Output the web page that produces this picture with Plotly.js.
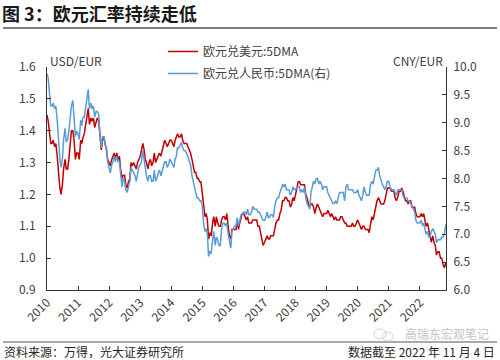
<!DOCTYPE html>
<html><head><meta charset="utf-8">
<script src="https://cdn.plot.ly/plotly-3.0.1.min.js"></script>
<style>html,body{margin:0;padding:0;background:#fff}#chart{width:500px;height:360px}</style>
</head><body><div id="chart"></div>
<script>
// EUR/USD 5DMA, sampled on the 1st and 15th of each month
const usd2010=[1.45,1.43,1.39,1.36,1.36,1.37,1.35,1.36,1.32,1.26,1.22,1.20,1.23,1.28,1.31,1.28,1.28,1.31,1.37,1.40,1.40,1.37,1.31,1.33];
const usd2011=[1.33,1.31,1.37,1.36,1.38,1.39,1.42,1.44,1.47,1.42,1.44,1.43,1.44,1.41,1.43,1.44,1.43,1.38,1.34,1.37,1.38,1.36,1.34,1.31];
const usd2012=[1.30,1.29,1.31,1.32,1.33,1.31,1.33,1.31,1.32,1.28,1.25,1.26,1.26,1.23,1.22,1.24,1.25,1.30,1.29,1.30,1.29,1.28,1.30,1.31];
const usd2013=[1.32,1.34,1.36,1.34,1.31,1.30,1.28,1.30,1.31,1.29,1.30,1.33,1.30,1.31,1.32,1.33,1.32,1.34,1.35,1.37,1.36,1.35,1.36,1.37];
const usd2014=[1.37,1.36,1.35,1.37,1.38,1.39,1.38,1.38,1.39,1.37,1.36,1.36,1.36,1.35,1.34,1.33,1.31,1.29,1.27,1.27,1.25,1.25,1.24,1.24];
const usd2015=[1.21,1.17,1.13,1.14,1.12,1.06,1.08,1.07,1.11,1.13,1.10,1.13,1.11,1.10,1.10,1.12,1.13,1.13,1.12,1.14,1.10,1.07,1.06,1.09];
const usd2016=[1.09,1.09,1.09,1.12,1.09,1.11,1.13,1.14,1.14,1.13,1.12,1.13,1.11,1.11,1.11,1.12,1.12,1.12,1.12,1.10,1.10,1.08,1.06,1.04];
const usd2017=[1.05,1.06,1.07,1.06,1.06,1.07,1.07,1.07,1.09,1.11,1.12,1.12,1.14,1.15,1.18,1.18,1.19,1.19,1.18,1.18,1.16,1.17,1.19,1.18];
const usd2018=[1.20,1.22,1.24,1.24,1.23,1.23,1.23,1.23,1.20,1.19,1.17,1.16,1.17,1.17,1.16,1.14,1.16,1.17,1.16,1.15,1.14,1.13,1.14,1.14];
const usd2019=[1.14,1.15,1.14,1.13,1.14,1.13,1.12,1.13,1.12,1.12,1.12,1.13,1.13,1.12,1.11,1.11,1.10,1.10,1.10,1.10,1.11,1.10,1.10,1.11];
const usd2020=[1.12,1.11,1.10,1.09,1.10,1.10,1.09,1.09,1.09,1.08,1.11,1.13,1.12,1.14,1.17,1.18,1.19,1.18,1.17,1.17,1.17,1.18,1.20,1.22];
const usd2021=[1.22,1.22,1.21,1.21,1.21,1.19,1.18,1.19,1.21,1.21,1.22,1.21,1.19,1.18,1.18,1.17,1.18,1.18,1.16,1.16,1.16,1.14,1.13,1.13];
const usd2022=[1.13,1.14,1.13,1.14,1.12,1.10,1.11,1.09,1.06,1.05,1.07,1.05,1.04,1.01,1.02,1.02,1.00,1.00,0.98,0.97,0.985,0.975];

// EUR/CNY 5DMA (right axis)
const cny2010=[9.88,9.80,9.50,9.30,9.30,9.35,9.25,9.30,9.05,8.65,8.35,8.20,8.35,8.70,8.90,8.65,8.70,8.85,9.15,9.30,9.40,9.10,8.75,8.85];
const cny2011=[8.80,8.70,9.05,8.95,9.10,9.10,9.30,9.45,9.60,9.25,9.35,9.25,9.30,9.10,9.20,9.20,9.15,8.80,8.55,8.75,8.75,8.60,8.55,8.30];
const cny2012=[8.20,8.10,8.25,8.30,8.40,8.30,8.40,8.30,8.30,8.05,7.85,8.00,7.95,7.80,7.75,7.85,7.95,8.20,8.15,8.10,8.05,7.95,8.10,8.20];
const cny2013=[8.25,8.30,8.50,8.35,8.15,8.05,7.95,8.05,8.05,7.95,7.95,8.15,7.95,8.00,8.10,8.15,8.05,8.15,8.25,8.30,8.30,8.20,8.25,8.35];
const cny2014=[8.30,8.25,8.20,8.35,8.40,8.55,8.55,8.60,8.65,8.55,8.50,8.50,8.45,8.40,8.30,8.25,8.05,7.95,7.80,7.75,7.65,7.65,7.60,7.60];
const cny2015=[7.50,7.20,7.05,7.10,7.00,6.60,6.70,6.65,6.90,7.05,6.80,6.95,6.90,6.80,6.80,7.10,7.20,7.20,7.15,7.20,7.00,6.85,6.75,7.05];
const cny2016=[7.10,7.15,7.15,7.30,7.15,7.25,7.35,7.35,7.40,7.40,7.35,7.45,7.35,7.35,7.40,7.50,7.45,7.45,7.45,7.40,7.40,7.35,7.30,7.25];
const cny2017=[7.25,7.30,7.40,7.30,7.30,7.35,7.35,7.30,7.50,7.60,7.65,7.65,7.75,7.80,7.90,7.85,7.90,7.80,7.80,7.80,7.70,7.75,7.85,7.80];
const cny2018=[7.80,7.85,7.85,7.85,7.75,7.80,7.75,7.85,7.65,7.55,7.50,7.45,7.75,7.85,7.95,7.90,8.00,8.00,7.90,7.95,7.90,7.80,7.85,7.85];
const cny2019=[7.85,7.75,7.70,7.65,7.60,7.55,7.55,7.60,7.55,7.65,7.75,7.75,7.75,7.75,7.60,7.85,7.90,7.80,7.80,7.80,7.80,7.75,7.75,7.75];
const cny2020=[7.80,7.70,7.65,7.60,7.70,7.85,7.75,7.70,7.70,7.70,7.90,7.95,7.90,8.00,8.15,8.15,8.20,8.05,7.95,7.90,7.85,7.80,7.85,7.95];
const cny2021=[7.95,7.85,7.80,7.80,7.80,7.75,7.70,7.80,7.80,7.80,7.80,7.70,7.65,7.65,7.65,7.60,7.60,7.55,7.50,7.45,7.40,7.25,7.20,7.20];
const cny2022=[7.20,7.25,7.15,7.20,7.10,7.00,7.05,6.95,6.95,7.05,7.10,7.05,7.00,6.85,6.90,6.90,6.90,6.95,6.95,7.00,7.15,7.18];

const usdName='欧元兑美元:5DMA';
const cnyName='欧元兑人民币:5DMA(右)';

const usd=[].concat(usd2010,usd2011,usd2012,usd2013,usd2014,usd2015,usd2016,usd2017,usd2018,usd2019,usd2020,usd2021,usd2022);
const cny=[].concat(cny2010,cny2011,cny2012,cny2013,cny2014,cny2015,cny2016,cny2017,cny2018,cny2019,cny2020,cny2021,cny2022);

// sample dates: 1st and 15th of each month, last point 2022-11-04
const dates=[];
const pad=n=>String(n).padStart(2,'0');
for(let y=2010;y<=2022;y++){
  for(let m=1;m<=12;m++){
    if(y===2022&&m>10)break;
    dates.push(`${y}-${pad(m)}-01`);
    dates.push(`${y}-${pad(m)}-15`);
  }
}
dates.push('2022-11-01');dates.push('2022-11-04');

const FONT='"Noto Sans CJK SC","Noto Sans",sans-serif';
const px=(v)=>(v-47)/399;      // helper: pixel x -> paper
const py=(v)=>(290-v)/223;     // helper: pixel y -> paper

const traces=[
  {x:dates,y:usd,name:usdName,type:'scatter',mode:'lines',line:{color:'#C00000',width:1.5},legendgroup:'a',yaxis:'y'},
  {x:dates,y:cny,name:cnyName,type:'scatter',mode:'lines',line:{color:'#5B9BD5',width:1.5},legendgroup:'b',yaxis:'y2'}
];

const layout={
  width:500,height:360,
  margin:{l:47,r:54,t:67,b:70},
  paper_bgcolor:'#fff',plot_bgcolor:'#fff',
  font:{family:FONT,size:12,color:'#404040'},
  title:{text:'<b>图 3：欧元汇率持续走低</b>',xref:'container',yref:'container',x:0.004,xanchor:'left',y:0.96,yanchor:'middle',font:{family:FONT,size:18,color:'#1a1a1a'}},
  showlegend:true,
  legend:{x:px(163),y:py(37),xanchor:'left',yanchor:'top',bgcolor:'rgba(0,0,0,0)',tracegroupgap:3,font:{size:12,color:'#404040'}},
  xaxis:{type:'date',range:['2010-01-01','2022-11-04'],tick0:'2010-01-01',dtick:'M12',tickformat:'%Y',tickangle:-45,
    showgrid:false,zeroline:false,showline:true,linecolor:'#333',linewidth:1,ticks:'inside',ticklen:4,tickcolor:'#333',
    tickfont:{size:12,color:'#404040'}},
  yaxis:{range:[0.9,1.6],dtick:0.1,tickformat:'.1f',showgrid:false,zeroline:false,showline:true,linecolor:'#333',linewidth:1,
    ticks:'inside',ticklen:4,tickcolor:'#333',ticklabelstandoff:8,tickfont:{size:12,color:'#404040'}},
  yaxis2:{range:[6,10],dtick:0.5,tickformat:'.1f',overlaying:'y',side:'right',showgrid:false,zeroline:false,showline:true,
    linecolor:'#333',linewidth:1,ticks:'inside',ticklen:4,tickcolor:'#333',ticklabelstandoff:4,tickfont:{size:12,color:'#404040'}},
  shapes:[
    {type:'line',xref:'paper',yref:'paper',x0:px(3),x1:px(497),y0:py(28),y1:py(28),line:{color:'#7f7f7f',width:2}},
    {type:'line',xref:'paper',yref:'paper',x0:px(3),x1:px(497),y0:py(342),y1:py(342),line:{color:'#8c8c8c',width:1.5}},
    {type:'circle',xref:'paper',yref:'paper',x0:px(374),x1:px(386),y0:py(339),y1:py(329),line:{color:'#d0d0d0',width:1}},
    {type:'circle',xref:'paper',yref:'paper',x0:px(382),x1:px(393),y0:py(341),y1:py(332),line:{color:'#d0d0d0',width:1}}
  ],
  annotations:[
    {text:'USD/EUR',xref:'paper',yref:'paper',x:px(48),y:py(61),xanchor:'left',yanchor:'middle',showarrow:false,font:{size:12,color:'#404040'}},
    {text:'CNY/EUR',xref:'paper',yref:'paper',x:px(445),y:py(61),xanchor:'right',yanchor:'middle',showarrow:false,font:{size:12,color:'#404040'}},
    {text:'资料来源：万得，光大证券研究所',xref:'paper',yref:'paper',x:px(2),y:py(351),xanchor:'left',yanchor:'middle',showarrow:false,font:{size:12,color:'#262626'}},
    {text:'数据截至 2022 年 11 月 4 日',xref:'paper',yref:'paper',x:px(497),y:py(351),xanchor:'right',yanchor:'middle',showarrow:false,font:{size:12,color:'#262626'}},
    {text:'高瑞东宏观笔记',xref:'paper',yref:'paper',x:px(491),y:py(333),xanchor:'right',yanchor:'middle',showarrow:false,font:{size:12,color:'#c4c4c4'}}
  ]
};

Plotly.newPlot('chart',traces,layout,{displayModeBar:false,staticPlot:true});
</script>
</body></html>
